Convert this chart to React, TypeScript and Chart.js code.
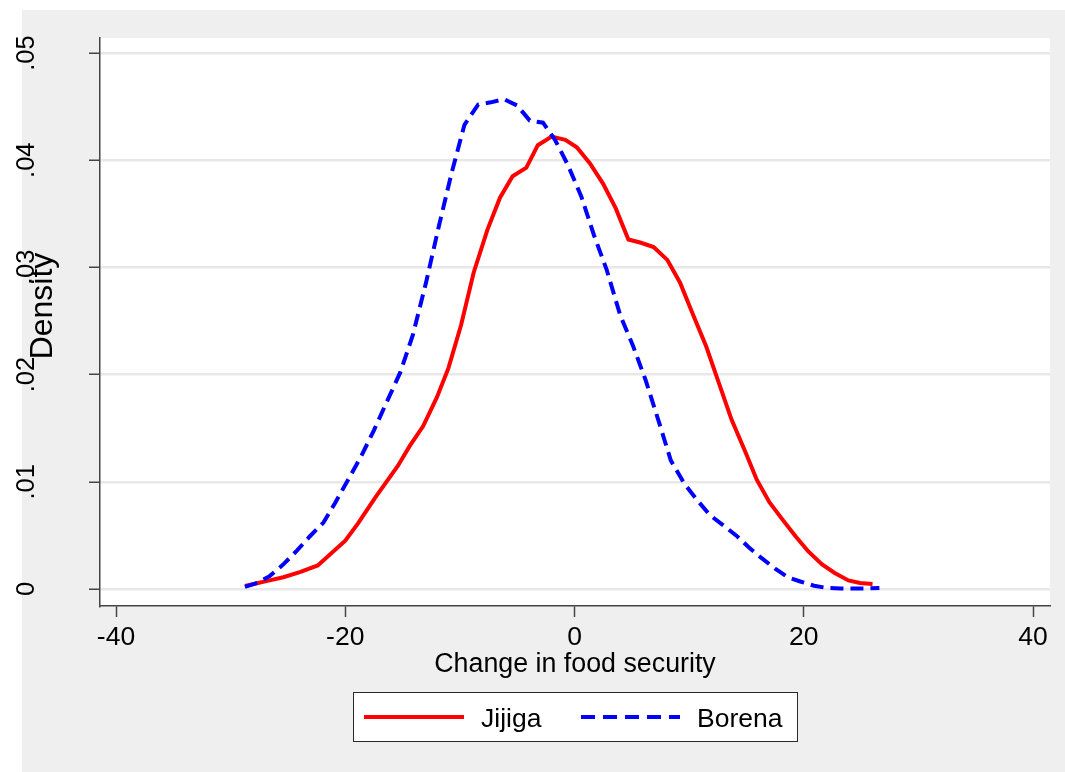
import React, { useEffect, useRef } from "react";
import { Chart, registerables } from "chart.js";

Chart.register(...registerables);

const seriesNames = ["Jijiga", "Borena"];
const xTitle = "Change in food security";
const yTitle = "Density";

const jijigaX = [-28.75, -26.6, -25.4, -23.9, -22.4, -20.0, -18.9, -17.4, -15.4, -14.4, -13.2, -12.0, -11.0, -9.9, -8.8, -7.6, -6.5, -5.4, -4.2, -3.2, -2.0, -0.8, 0.2, 1.35, 2.5, 3.6, 4.7, 5.8, 6.9, 8.1, 9.2, 10.3, 11.5, 12.5, 13.7, 14.9, 15.9, 17.0, 18.2, 19.3, 20.4, 21.6, 22.7, 23.9, 24.9, 26.0];
const jijigaY = [0.00028, 0.0008, 0.0011, 0.0016, 0.0022, 0.0045, 0.0061, 0.0085, 0.0115, 0.0133, 0.0152, 0.0179, 0.0206, 0.0246, 0.0295, 0.0335, 0.0365, 0.0385, 0.0393, 0.0414, 0.0422, 0.0419, 0.0412, 0.0397, 0.0378, 0.0355, 0.0326, 0.0323, 0.0319, 0.0307, 0.0286, 0.0257, 0.0226, 0.0195, 0.0158, 0.0128, 0.0102, 0.0081, 0.0064, 0.0049, 0.0035, 0.0023, 0.0015, 0.0008, 0.00056, 0.00047];

const borenaX = [-28.75, -27.6, -26.6, -25.4, -24.2, -23.1, -21.9, -20.9, -19.8, -18.6, -17.5, -16.4, -15.2, -14.1, -12.95, -11.8, -10.7, -9.6, -8.4, -7.3, -6.15, -5.0, -3.9, -2.75, -1.7, -0.6, 0.6, 1.7, 2.8, 4.0, 5.1, 6.2, 7.3, 8.4, 9.6, 10.7, 11.8, 12.9, 14.1, 15.2, 16.3, 17.5, 18.6, 19.7, 20.9, 22.0, 23.2, 25.4, 26.6];
const borenaY = [0.0002, 0.0006, 0.0012, 0.0023, 0.0036, 0.0049, 0.0062, 0.008, 0.0101, 0.0124, 0.0148, 0.0174, 0.0202, 0.0237, 0.0286, 0.034, 0.0389, 0.0433, 0.0452, 0.0454, 0.0457, 0.0451, 0.0437, 0.0435, 0.0419, 0.0396, 0.0366, 0.033, 0.0298, 0.0255, 0.0227, 0.0195, 0.0158, 0.012, 0.0098, 0.0083, 0.0069, 0.006, 0.005, 0.0039, 0.0029, 0.0019, 0.0011, 0.0007, 0.0003, 0.0001, 0.00005, 0.00005, 0.0001];

const xTickValues = [-40, -20, 0, 20, 40];
const yTickValues = [0, 0.01, 0.02, 0.03, 0.04, 0.05];
const yTickLabels = ["0", ".01", ".02", ".03", ".04", ".05"];

const seriesColors = ["#ff0000", "#0000ff"];
const FONT = '"Liberation Sans", Arial, Helvetica, sans-serif';

const decorPlugin = {
  id: "stataDecor",
  beforeDraw(chart: any) {
    const { ctx, chartArea, width, height } = chart;
    ctx.save();
    ctx.fillStyle = "#ffffff";
    ctx.fillRect(0, 0, width, height);
    ctx.fillStyle = "#efefef";
    ctx.fillRect(22, 10, width - 22, height - 10);
    ctx.fillStyle = "#ffffff";
    ctx.fillRect(chartArea.left, chartArea.top, chartArea.right - chartArea.left, chartArea.bottom - chartArea.top);
    ctx.restore();
  },
  afterDraw(chart: any) {
    const { ctx, chartArea } = chart;
    const yScale = chart.scales.y;
    ctx.save();
    ctx.fillStyle = "#000000";
    // y tick labels, rotated
    ctx.font = `25.5px ${FONT}`;
    ctx.textAlign = "center";
    ctx.textBaseline = "alphabetic";
    yScale.ticks.forEach((t: any) => {
      const idx = yTickValues.indexOf(t.value);
      const label = idx >= 0 ? yTickLabels[idx] : String(t.value);
      const py = yScale.getPixelForValue(t.value);
      ctx.save();
      ctx.translate(33.5, py);
      ctx.rotate(-Math.PI / 2);
      ctx.fillText(label, 0, 0);
      ctx.restore();
    });
    // y title
    ctx.font = `32px ${FONT}`;
    ctx.save();
    ctx.translate(52, 306);
    ctx.rotate(-Math.PI / 2);
    ctx.fillText(yTitle, 0, 0);
    ctx.restore();
    // x title
    ctx.font = `26.8px ${FONT}`;
    ctx.fillText(xTitle, (chartArea.left + chartArea.right) / 2, 672);

    // legend
    const bx = 353, by = 692, bw = 444, bh = 49;
    ctx.fillStyle = "#ffffff";
    ctx.fillRect(bx, by, bw, bh);
    ctx.strokeStyle = "#2a2a2a";
    ctx.lineWidth = 1;
    ctx.strokeRect(bx + 0.5, by + 0.5, bw, bh);
    const ly = 717;
    ctx.lineWidth = 4;
    ctx.strokeStyle = seriesColors[0];
    ctx.setLineDash([]);
    ctx.beginPath();
    ctx.moveTo(364, ly);
    ctx.lineTo(464, ly);
    ctx.stroke();
    ctx.strokeStyle = seriesColors[1];
    ctx.setLineDash([14, 8]);
    ctx.beginPath();
    ctx.moveTo(581, ly);
    ctx.lineTo(680, ly);
    ctx.stroke();
    ctx.setLineDash([]);
    ctx.fillStyle = "#000000";
    ctx.textAlign = "left";
    ctx.font = `26.5px ${FONT}`;
    ctx.fillText(seriesNames[0], 481, 727);
    ctx.fillText(seriesNames[1], 697, 727);
    ctx.restore();
  },
};

export default function App() {
  const ref = useRef<HTMLCanvasElement | null>(null);
  useEffect(() => {
    if (!ref.current) return;
    const chart = new Chart(ref.current, {
      type: "line",
      data: {
        datasets: [
          {
            label: seriesNames[0],
            data: jijigaX.map((x, i) => ({ x, y: jijigaY[i] })),
            borderColor: seriesColors[0],
            backgroundColor: seriesColors[0],
            borderWidth: 4,
            pointRadius: 0,
            tension: 0,
            fill: false,
            order: 1,
          },
          {
            label: seriesNames[1],
            data: borenaX.map((x, i) => ({ x, y: borenaY[i] })),
            borderColor: seriesColors[1],
            backgroundColor: seriesColors[1],
            borderWidth: 4,
            borderDash: [13, 7],
            pointRadius: 0,
            tension: 0,
            fill: false,
            order: 0,
          },
        ],
      },
      options: {
        animation: false,
        responsive: false,
        devicePixelRatio: 1,
        layout: { padding: { left: 0, right: 15, top: 38, bottom: 0 } },
        plugins: { legend: { display: false }, tooltip: { enabled: false } },
        scales: {
          x: {
            type: "linear",
            min: -41.396,
            max: 41.483,
            afterBuildTicks: (scale: any) => {
              scale.ticks = xTickValues.map((v) => ({ value: v }));
            },
            afterFit: (scale: any) => {
              scale.height = 166;
            },
            grid: {
              drawOnChartArea: false,
              drawTicks: true,
              tickLength: 11,
              tickColor: "#444444",
              tickWidth: 1.5,
            },
            border: { display: true, color: "#444444", width: 1.5 },
            ticks: {
              color: "#000000",
              font: { family: FONT, size: 26.5 },
              padding: 5,
              maxRotation: 0,
              callback: (v: any) => String(v),
            },
          },
          y: {
            type: "linear",
            min: -0.001586,
            max: 0.0514,
            afterBuildTicks: (scale: any) => {
              scale.ticks = yTickValues.map((v) => ({ value: v }));
            },
            afterFit: (scale: any) => {
              scale.width = 100;
            },
            grid: {
              color: "#e8e8e8",
              lineWidth: 2.5,
              drawTicks: true,
              tickLength: 11,
              tickColor: "#444444",
              tickWidth: 1.5,
            },
            border: { display: true, color: "#444444", width: 1.5 },
            ticks: { display: false },
          },
        },
      },
      plugins: [decorPlugin],
    } as any);
    return () => chart.destroy();
  }, []);
  return (
    <div style={{ position: "fixed", left: 0, top: 0, width: 1065, height: 772 }}>
      <canvas ref={ref} width={1065} height={772} style={{ display: "block", width: 1065, height: 772 }} />
    </div>
  );
}
